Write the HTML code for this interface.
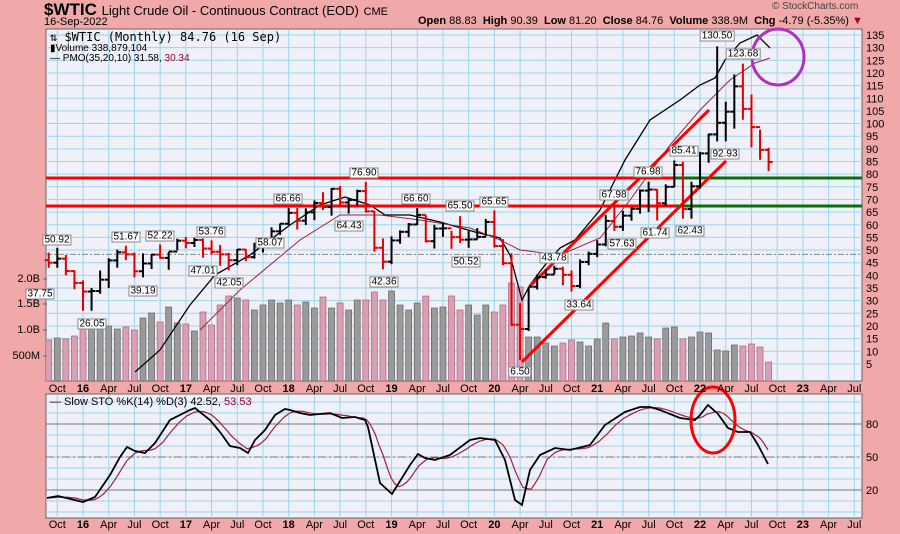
<!DOCTYPE html>
<html><head><meta charset="utf-8"><style>
body{margin:0;background:#f0a8a8;width:900px;height:534px;overflow:hidden;position:relative;font-family:"Liberation Sans",sans-serif}
.t{position:absolute;white-space:nowrap;color:#000}
.lb{position:absolute;background:#fff;border:1px solid #888;font-size:10px;line-height:9px;padding:0 1px;transform:translate(-50%,-50%);white-space:nowrap}
.va{position:absolute;right:860px;font-size:11px;white-space:nowrap;transform:translateY(-50%)}
</style></head><body>
<svg id="s" width="900" height="534" style="position:absolute;left:0;top:0">
<rect x="46" y="29" width="816" height="352" fill="#eff0f8" stroke="#666"/>
<rect x="46" y="394" width="816" height="124" fill="#eff0f8" stroke="#666"/>
<g id="grid"></g><g id="vol"></g><g id="lines"></g><g id="bars"></g>
<g font-size="11" font-family="Liberation Sans" id="ax"></g>
<g stroke="#666"><line x1="43" x2="47" y1="279" y2="279"/><line x1="43" x2="47" y1="304" y2="304"/><line x1="43" x2="47" y1="330" y2="330"/><line x1="43" x2="47" y1="356" y2="356"/></g>
</svg>
<div class="t" style="left:44px;top:0px;font-size:17px;font-weight:bold">$WTIC <span style="font-size:13px;font-weight:normal">Light Crude Oil - Continuous Contract (EOD)</span> <span style="font-size:11px;font-weight:normal">CME</span></div>
<div class="t" style="left:44px;top:16px;font-size:11px">16-Sep-2022</div>
<div class="t" style="left:418px;top:15px;font-size:11px"><b>Open</b> 88.83 &nbsp;<b>High</b> 90.39 &nbsp;<b>Low</b> 81.20 &nbsp;<b>Close</b> 84.76 &nbsp;<b>Volume</b> 338.9M &nbsp;<b>Chg</b> -4.79 (-5.35%) <span style="color:#a00020">▼</span></div>
<div class="t" style="left:772px;top:1px;font-size:10px;color:#444">© StockCharts.com</div>
<div class="t" style="left:50px;top:30px;font-size:12px;font-family:'DejaVu Sans Mono',monospace">⇅ $WTIC (Monthly) 84.76 (16 Sep)</div>
<div class="t" style="left:50px;top:43px;font-size:10px">▮Volume 338,879,104</div>
<div class="t" style="left:50px;top:53px;font-size:10px">— PMO(35,20,10) 31.58, <span style="color:#a00030">30.34</span></div>
<div class="t" style="left:50px;top:396px;font-size:11px">— Slow STO %K(14) %D(3) 42.52, <span style="color:#a00030">53.53</span></div>
<div class="va" style="top:279px">2.0B</div>
<div class="va" style="top:304px">1.5B</div>
<div class="va" style="top:330px">1.0B</div>
<div class="va" style="top:356px">500M</div>
<div class="lb" style="left:57px;top:240px">50.92</div><div class="lb" style="left:40px;top:294px">37.75</div>
<div class="lb" style="left:92px;top:324px">26.05</div><div class="lb" style="left:126px;top:237px">51.67</div>
<div class="lb" style="left:160px;top:236px">52.22</div><div class="lb" style="left:143px;top:291px">39.19</div>
<div class="lb" style="left:211px;top:232px">53.76</div><div class="lb" style="left:203px;top:271px">47.01</div>
<div class="lb" style="left:229px;top:283px">42.05</div><div class="lb" style="left:288px;top:199px">66.66</div>
<div class="lb" style="left:270px;top:243px">58.07</div><div class="lb" style="left:364px;top:173px">76.90</div>
<div class="lb" style="left:349px;top:226px">64.43</div><div class="lb" style="left:416px;top:199px">66.60</div>
<div class="lb" style="left:384px;top:282px">42.36</div><div class="lb" style="left:460px;top:206px">65.50</div>
<div class="lb" style="left:494px;top:202px">65.65</div><div class="lb" style="left:466px;top:262px">50.52</div>
<div class="lb" style="left:554px;top:258px">43.78</div><div class="lb" style="left:520px;top:372px">6.50</div>
<div class="lb" style="left:579px;top:305px">33.64</div><div class="lb" style="left:614px;top:195px">67.98</div>
<div class="lb" style="left:622px;top:244px">57.63</div><div class="lb" style="left:648px;top:172px">76.98</div>
<div class="lb" style="left:655px;top:233px">61.74</div><div class="lb" style="left:684px;top:151px">85.41</div>
<div class="lb" style="left:690px;top:231px">62.43</div><div class="lb" style="left:725px;top:154px">92.93</div>
<div class="lb" style="left:717px;top:36px">130.50</div><div class="lb" style="left:743px;top:54px">123.68</div>
<script>
const NS="http://www.w3.org/2000/svg";
function el(p,t,a){const e=document.createElementNS(NS,t);for(const k in a)e.setAttribute(k,a[k]);document.getElementById(p).appendChild(e);return e;}
const X=m=>83+m*8.57, Y=p=>35+(135-p)*2.53, S=v=>512-v*1.1;
for(let m=-3;m<=90;m+=3){const x=X(m);if(x<47||x>861)continue;
 el('grid','line',{x1:x,x2:x,y1:30,y2:381,stroke:'#9cd5ec','stroke-width':1});
 el('grid','line',{x1:x,x2:x,y1:395,y2:518,stroke:'#9cd5ec','stroke-width':1});
 const names=['16','Apr','Jul','Oct'];const q=((m%12)+12)%12/3;const yr=16+Math.floor(m/12);
 const txt=q==0?String(yr):names[q];const b=q==0?'bold':'normal';
 for(const yy of [392,528]){const t=el('ax','text',{x:x,y:yy,'text-anchor':'middle','font-weight':b});t.textContent=txt;}
}
for(let p=5;p<=135;p+=5){const y=Y(p);el('grid','line',{x1:46,x2:862,y1:y,y2:y,stroke:'#9cd5ec'});
 const t=el('ax','text',{x:866,y:y+4});t.textContent=p;}
el('grid','line',{x1:46,x2:862,y1:Y(48.3),y2:Y(48.3),stroke:'#888','stroke-dasharray':'6,2,2,2'});
for(let v=0;v<=100;v+=10){const y=S(v);el('grid','line',{x1:46,x2:862,y1:y,y2:y,stroke:'#9cd5ec'});}
for(const v of [80,20]){el('grid','line',{x1:46,x2:862,y1:S(v),y2:S(v),stroke:'#777'});const t=el('ax','text',{x:866,y:S(v)+4});t.textContent=v;}
el('grid','line',{x1:46,x2:862,y1:S(50),y2:S(50),stroke:'#777','stroke-dasharray':'8,3,2,3'});{const t=el('ax','text',{x:866,y:S(50)+4});t.textContent=50;}
const D=[[49,43,45],[50.9,43,46.6],[48,40,41.7],[42,34.5,37],
[38,26,33.6],[35,26,33.8],[41.9,32.7,38.3],[46.8,35,45.9],[50.2,43,49.1],[51.7,46,48.3],[49,39.2,41.6],[48.7,39.2,44.7],[48.4,42.5,48.2],[52.2,46.6,46.9],[49.2,42.2,49.4],[54.5,49.9,53.7],
[55.2,50.7,52.8],[54.9,51.2,54],[54.6,47,50.6],[53.8,48.2,49.3],[52,43.8,48.3],[48.9,42,46],[50.4,44,50.2],[50.4,45.6,47.2],[52.9,46.6,51.7],[54.8,49,54.4],[59,53.7,57.4],[60.5,56,60.4],
[66.7,59.9,64.7],[66.6,58.1,61.6],[66.5,59.9,64.9],[69.6,61.8,68.6],[72.9,65.8,67],[74.5,63.6,74.2],[75.3,67,68.8],[70.4,64.4,69.8],[73.9,67.6,73.3],[76.9,64.9,65.3],[65.4,49.4,50.9],[54.6,42.4,45.4],
[55.4,44.4,53.8],[57.8,52.5,57.2],[60.7,55.1,60.1],[66.6,59.9,63.9],[63.8,53,53.5],[60,50.6,58.5],[60.9,55.2,58.6],[57.6,50.5,55.1],[63.4,52.8,54.1],[57.5,50.9,54.2],[58.7,54.2,55.2],[62.3,55.4,61.1],
[65.65,51,51.6],[54.3,44,44.8],[48.7,20,20.5],[29,6.5,18.8],[35.3,18,35.5],[40.4,34.4,39.3],[42.5,38.7,40.3],[43.8,40.4,42.6],[43.4,36.1,40.2],[41.9,33.6,35.8],[46.3,34.9,45.3],[49.4,44,48.5],
[53.9,47.2,52.2],[63.8,51.5,61.5],[67.98,57.6,59.2],[65.5,57.6,63.6],[67,61.6,66.3],[74,64.4,73.5],[76.98,65,73.9],[74,61.7,68.5],[76,67.6,75],[85.41,74.9,83.6],[84.9,62.4,66.2],[77,62.4,75.2],
[88.8,74.3,88.2],[96,84.5,95.7],[130.5,92.93,100.3],[108.6,93,104.7],[119.4,98,114.7],[123.68,101.5,105.8],[111.5,90.6,98.6],[97.6,85.7,89.6],[90.4,81.2,84.8]];
const V=[340,338,339,336,327,328,325,326,329,327,330,318,313,322,307,323,324,331,312,325,305,296,298,300,310,305,300,303,300,305,302,308,297,308,303,310,300,300,292,300,291,305,310,303,296,308,307,296,310,305,315,305,
312,305,283,287,337,337,343,346,343,340,342,346,339,323,339,337,336,333,337,339,328,327,339,337,332,333,350,351,345,346,344,347,362];
let prev=46;
D.forEach((d,i)=>{const m=i-4,x=X(m);const up=d[2]>=prev;const c=up?'#000':'#e00000';
 const vt=V[i+(V.length-D.length)]||340;
 el('vol','rect',{x:x-3,y:vt,width:6,height:381-vt,fill:up?'#9a9a9a':'#d8a0b0',stroke:up?'#666':'#b06080','stroke-width':0.7});
 el('bars','line',{x1:x,x2:x,y1:Y(d[0]),y2:Y(d[1]),stroke:c,'stroke-width':2});
 el('bars','line',{x1:x-4,x2:x,y1:Y(prev),y2:Y(prev),stroke:c,'stroke-width':2});
 el('bars','line',{x1:x,x2:x+4,y1:Y(d[2]),y2:Y(d[2]),stroke:c,'stroke-width':2});
 prev=d[2];});
const pl=(pts,a)=>el('lines','polyline',Object.assign({points:pts.map(p=>p.join(',')).join(' '),fill:'none'},a));
pl([[135,372],[160,350],[190,305],[215,275],[250,255],[290,225],[320,205],[345,197],[370,205],[385,215],[410,215],[440,222],[475,232],[500,238],[510,255],[522,300],[530,285],[545,265],[560,248],[575,240],[600,210],[625,160],[650,120],[680,100],[700,85],[715,78],[725,60],[740,43],[757,35],[770,48]],{stroke:'#000','stroke-width':1.3});
pl([[200,330],[240,290],[300,240],[340,215],[380,215],[420,220],[470,228],[500,240],[520,250],[560,255],[600,238],[630,200],[670,145],[700,110],[730,80],[755,63],[770,58]],{stroke:'#a02040','stroke-width':1});
el('lines','line',{x1:46,x2:676,y1:178,y2:178,stroke:'#f00','stroke-width':3});
el('lines','line',{x1:676,x2:862,y1:178,y2:178,stroke:'#087008','stroke-width':3});
el('lines','line',{x1:46,x2:676,y1:206,y2:206,stroke:'#f00','stroke-width':3});
el('lines','line',{x1:676,x2:862,y1:206,y2:206,stroke:'#087008','stroke-width':3});
el('lines','line',{x1:522,x2:726,y1:362,y2:161,stroke:'#f00','stroke-width':3});
el('lines','line',{x1:530,x2:709,y1:286,y2:110,stroke:'#f00','stroke-width':3});
el('lines','ellipse',{cx:778,cy:57,rx:26,ry:28,fill:'none',stroke:'#b030c0','stroke-width':3});
const K=[[47,498],[58,496],[83,502],[95,497],[110,475],[120,457],[127,447],[135,451],[145,453],[155,443],[170,420],[190,410],[195,408],[210,420],[220,432],[230,446],[240,448],[248,453],[255,440],[265,430],[275,415],[285,409],[290,410],[300,413],[310,415],[330,413],[342,418],[355,417],[365,420],[368,427],[380,483],[392,494],[410,465],[418,454],[425,458],[435,460],[450,455],[470,440],[480,438],[495,440],[505,460],[515,500],[522,505],[530,470],[540,455],[555,448],[570,450],[590,445],[605,425],[625,412],[640,407],[650,407],[660,410],[680,418],[695,420],[700,415],[708,405],[718,414],[728,428],[738,432],[750,432],[758,445],[768,464]];
function ki(x){for(let i=1;i<K.length;i++)if(x<=K[i][0]){const a=K[i-1],b=K[i];return a[1]+(b[1]-a[1])*(x-a[0])/(b[0]-a[0]);}return K[K.length-1][1];}
const Dp=[];for(let x=47;x<=768;x+=4){const v=(ki(x)+ki(Math.max(47,x-8.6))+ki(Math.max(47,x-17)))/3;Dp.push([x,v.toFixed(1)]);}
Dp[Dp.length-1]=[768,450];
pl(Dp,{stroke:'#a02040','stroke-width':1.2});
pl(K,{stroke:'#000','stroke-width':1.8});
el('lines','ellipse',{cx:713,cy:420,rx:22,ry:33,fill:'none',stroke:'#f00','stroke-width':3});
</script>
</body></html>
